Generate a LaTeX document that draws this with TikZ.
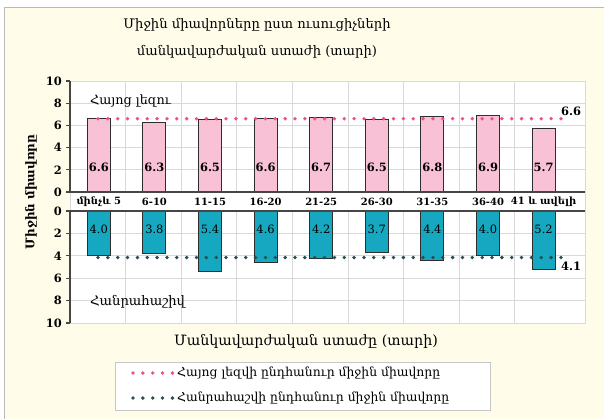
\documentclass[tikz,border=0pt]{standalone}
\usepackage{fontspec}
\setmainfont{DejaVu Serif}
\definecolor{bgY}{RGB}{255,253,234}
\definecolor{gridC}{RGB}{217,217,217}
\definecolor{axisC}{RGB}{70,70,70}
\definecolor{pinkBar}{RGB}{248,193,214}
\definecolor{tealBar}{RGB}{22,168,192}
\definecolor{pinkDot}{RGB}{238,80,138}
\definecolor{tealDot}{RGB}{42,78,84}
\definecolor{barEdge}{RGB}{45,45,45}
\newcommand{\fsz}[1]{\fontsize{#1}{#1}\selectfont}
\begin{document}
\begin{tikzpicture}[x=1bp,y=-1bp,
  txt/.style={inner sep=0pt, text=black},
  ticklab/.style={txt, anchor=east, font=\fsz{11.5}\bfseries},
  catlab/.style={txt, font=\fsz{10}\bfseries},
  uval/.style={txt, font=\fsz{11.5}\bfseries},
  lval/.style={txt, font=\fsz{11.5}},
  pinkbar/.style={fill=pinkBar, draw=barEdge, line width=0.9bp},
  tealbar/.style={fill=tealBar, draw=barEdge, line width=0.9bp},
  gridline/.style={draw=gridC, line width=0.9bp},
  axisline/.style={draw=axisC, line width=1.3bp},
  pinkdots/.style={draw=pinkDot, line width=3.8bp, line cap=round, dash pattern=on 0bp off 9.85bp},
  tealdots/.style={draw=tealDot, line width=3.8bp, line cap=round, dash pattern=on 0bp off 9.85bp},
]
\useasboundingbox (0,0) rectangle (604,418);
\fill[white] (0,0) rectangle (604,418);
\fill[bgY] (4,7) rectangle (606,420);
\draw[gray!55, line width=0.9bp] (4.5,420) -- (4.5,7.5) -- (606,7.5);

% plot area
\fill[white] (70,81) rectangle (585,323);
\foreach \v in {2,4,6,8} {
  \draw[gridline] (70,{192-11.1*\v}) -- (585,{192-11.1*\v});
  \draw[gridline] (70,{211+11.2*\v}) -- (585,{211+11.2*\v});
}
\foreach \k in {1,...,8} {
  \draw[gridline] ({70+55.6*\k},81) -- ({70+55.6*\k},192);
  \draw[gridline] ({70+55.6*\k},211) -- ({70+55.6*\k},323);
}
\draw[gridline] (70,81) rectangle (585,323);

% upper bars
\foreach \v [count=\i from 0] in {6.6,6.3,6.5,6.6,6.7,6.5,6.8,6.9,5.7} {
  \pgfmathsetmacro{\cx}{70+55.6*(\i+0.5)+1}
  \draw[pinkbar] ({\cx-11.5},192) rectangle ({\cx+11.5},{192-11.1*\v});
  \node[uval] (u\i) at (\cx,167) {\v};
}
% lower bars
\foreach \v [count=\i from 0] in {4.0,3.8,5.4,4.6,4.2,3.7,4.4,4.0,5.2} {
  \pgfmathsetmacro{\cx}{70+55.6*(\i+0.5)+1}
  \draw[tealbar] ({\cx-11.5},211) rectangle ({\cx+11.5},{211+11.2*\v});
  \node[lval] (l\i) at (\cx,229) {\v};
}
% category labels
\foreach \c [count=\i from 0] in {մինչև 5,6-10,11-15,16-20,21-25,26-30,31-35,36-40,41 և ավելի} {
  \pgfmathsetmacro{\cx}{70+55.6*(\i+0.5)+1}
  \node[catlab] (c\i) at (\cx,201.5) {\c};
}

% axes
\draw[axisline] (70,81) -- (70,192);
\draw[axisline] (70,211) -- (70,323);
\draw[axisline] (66,192) -- (585,192);
\draw[axisline] (66,211) -- (585,211);
\foreach \v in {0,2,4,6,8,10} {
  \draw[axisline] (66,{192-11.1*\v}) -- (70,{192-11.1*\v});
  \draw[axisline] (66,{211+11.2*\v}) -- (70,{211+11.2*\v});
  \node[ticklab] (tu\v) at (62,{192-11.1*\v}) {\v};
  \node[ticklab] (tl\v) at (62,{211+11.2*\v}) {\v};
}

% average lines
\coordinate (pa) at (98,118.7);
\coordinate (pb) at (570,118.7);
\coordinate (ta) at (98,257.5);
\coordinate (tb) at (570,257.5);
\draw[pinkdots] (pa) -- (pb);
\draw[tealdots] (ta) -- (tb);
\node[uval] (p66) at (571,111) {6.6};
\node[uval] (t41) at (571,266) {4.1};

% series labels
\node[txt, anchor=west, font=\fsz{12.8}] (hl) at (90,101) {Հայոց լեզու};
\node[txt, anchor=west, font=\fsz{13.2}] (hh) at (90,302) {Հանրահաշիվ};

% titles
\node[txt, font=\fsz{13.2}] (t1) at (257,25) {Միջին միավորները ըստ ուսուցիչների};
\node[txt, font=\fsz{13.2}] (t2) at (257,52) {մանկավարժական ստաժի (տարի)};
\node[txt, font=\fsz{12}\bfseries, rotate=90] (yt) at (31,192) {Միջին միավորը};
\node[txt, font=\fsz{14.3}] (xt) at (306,341) {Մանկավարժական ստաժը (տարի)};

% legend
\draw[draw=gray!45, fill=white, line width=0.9bp] (115,362) rectangle (490,410);
\coordinate (l1a) at (133,373);
\coordinate (l1b) at (173,373);
\coordinate (l2a) at (133,398);
\coordinate (l2b) at (173,398);
\draw[pinkdots] (l1a) -- (l1b);
\draw[tealdots] (l2a) -- (l2b);
\node[txt, anchor=west, font=\fsz{12.4}] (lg1) at (177,373) {Հայոց լեզվի ընդհանուր միջին միավորը};
\node[txt, anchor=west, font=\fsz{12.4}] (lg2) at (177,398) {Հանրահաշվի ընդհանուր միջին միավորը};
\end{tikzpicture}
\end{document}
